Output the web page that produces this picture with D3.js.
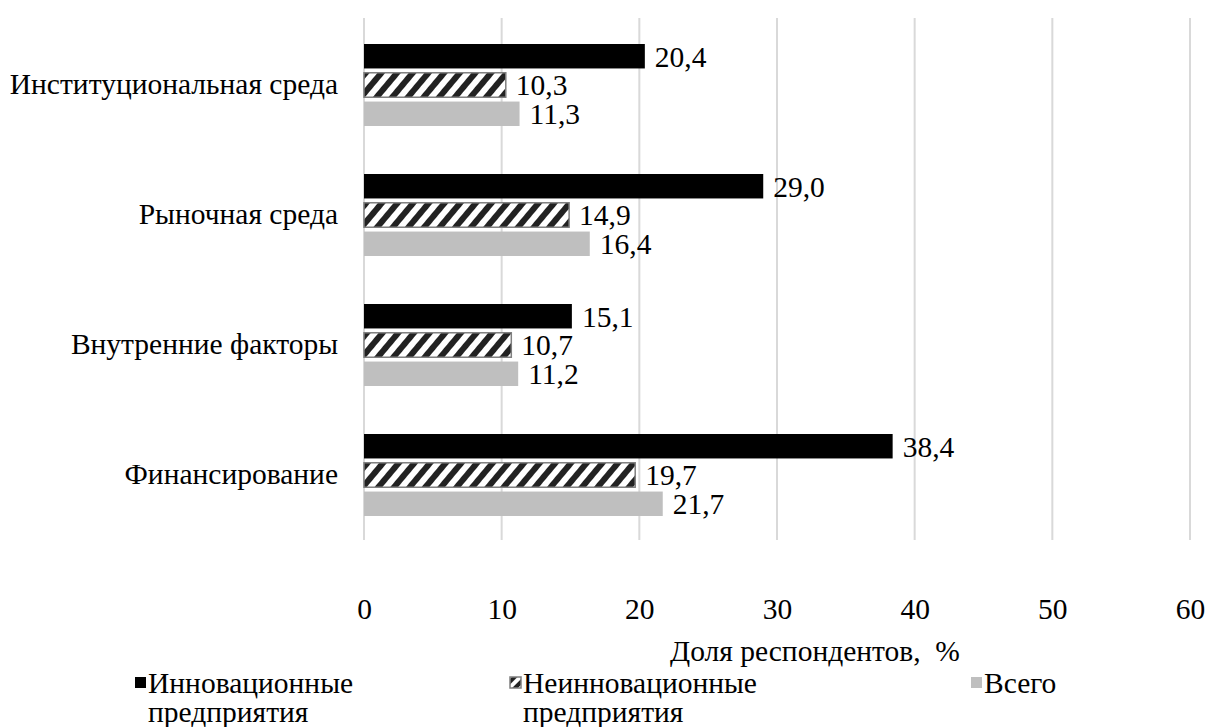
<!DOCTYPE html>
<html>
<head>
<meta charset="utf-8">
<script src="https://cdn.jsdelivr.net/npm/d3@7"></script>
</head>
<body style="margin:0">
<svg id="chart" width="1213" height="727"></svg>
<script>
// Barriers to development, share of respondents (%)
const categories = ["Институциональная среда", "Рыночная среда", "Внутренние факторы", "Финансирование"];
const seriesNames = ["Инновационные предприятия", "Неинновационные предприятия", "Всего"];
const innovative = [20.4, 29.0, 15.1, 38.4];
const nonInnovative = [10.3, 14.9, 10.7, 19.7];
const total = [11.3, 16.4, 11.2, 21.7];
const xTicks = [0, 10, 20, 30, 40, 50, 60];
const axisTitle = "Доля респондентов,\u00a0 %";

const series = [innovative, nonInnovative, total];
const svg = d3.select("#chart");
const fontSize = 29.5;

// apply the serif face to a text selection
const styleText = sel => sel
  .style("font-family", '"Liberation Serif"')
  .attr("font-size", fontSize)
  .attr("fill", "#000");

const x = d3.scaleLinear().domain([0, 60]).range([364, 1190]);
const y = d3.scaleBand().domain(categories).range([20, 540]);
const inner = d3.scaleBand().domain(d3.range(3)).range([-41, 41]).paddingInner(0.15);

// hatch pattern for the non-innovative series
const defs = svg.append("defs");
const pat = defs.append("pattern")
  .attr("id", "hatch").attr("patternUnits", "userSpaceOnUse")
  .attr("width", 12).attr("height", 12)
  .attr("patternTransform", "rotate(40)");
pat.append("rect").attr("width", 12).attr("height", 12).attr("fill", "#fff");
pat.append("rect").attr("width", 6).attr("height", 12).attr("fill", "#222");

const pat2 = defs.append("pattern")
  .attr("id", "hatchSmall").attr("patternUnits", "userSpaceOnUse")
  .attr("width", 8).attr("height", 8)
  .attr("patternTransform", "rotate(45)");
pat2.append("rect").attr("width", 8).attr("height", 8).attr("fill", "#fff");
pat2.append("rect").attr("width", 4).attr("height", 8).attr("fill", "#222");

const fills = ["#000000", "url(#hatch)", "#bfbfbf"];
const strokes = ["none", "#7f7f7f", "none"];

// vertical gridlines
svg.append("g").selectAll("line").data(xTicks).join("line")
  .attr("x1", d => x(d)).attr("x2", d => x(d))
  .attr("y1", y.range()[0] - 2).attr("y2", y.range()[1])
  .attr("stroke", "#d9d9d9").attr("stroke-width", 2);

// x axis tick labels
const xAxis = d3.axisBottom(x).tickValues(xTicks).tickSize(0).tickPadding(0);
const gx = svg.append("g").attr("transform", "translate(0,609)").call(xAxis);
gx.attr("font-family", null).attr("font-size", null);
gx.select(".domain").remove();
gx.selectAll("text").attr("dy", "0.35em").call(styleText);

// category labels
const yAxis = d3.axisLeft(y).tickSize(0).tickPadding(0);
const gy = svg.append("g").attr("transform", "translate(338,0)").call(yAxis);
gy.attr("font-family", null).attr("font-size", null);
gy.select(".domain").remove();
gy.selectAll("text").call(styleText);

// bars and value labels
series.forEach((vals, si) => {
  const g = svg.append("g");
  g.selectAll("rect").data(vals).join("rect")
    .attr("x", x(0))
    .attr("y", (d, i) => y(categories[i]) + y.bandwidth() / 2 + inner(si))
    .attr("width", d => x(d) - x(0))
    .attr("height", inner.bandwidth())
    .attr("fill", fills[si])
    .attr("stroke", strokes[si])
    .attr("stroke-width", si === 1 ? 1.5 : 0);
  g.selectAll("text").data(vals).join("text")
    .attr("x", d => x(d) + 10)
    .attr("y", (d, i) => y(categories[i]) + y.bandwidth() / 2 + inner(si) + inner.bandwidth() / 2)
    .attr("dy", "0.35em")
    .text(d => d.toFixed(1).replace(".", ","))
    .call(styleText);
});

// axis title
svg.append("text").attr("x", 815).attr("y", 651).attr("dy", "0.35em")
  .attr("text-anchor", "middle").text(axisTitle).call(styleText);

// legend
const legendX = [135, 510, 971];
const legendFills = ["#000000", "url(#hatchSmall)", "#bfbfbf"];
seriesNames.forEach((name, i) => {
  const g = svg.append("g").attr("transform", `translate(${legendX[i]},0)`);
  g.append("rect").attr("x", 0).attr("y", 677).attr("width", 11).attr("height", 11)
    .attr("fill", legendFills[i])
    .attr("stroke", i === 1 ? "#7f7f7f" : "none").attr("stroke-width", 1.5);
  const t = g.append("text").call(styleText);
  name.split(" ").forEach((w, k) => {
    t.append("tspan").attr("x", 13).attr("y", 683 + k * 29).attr("dy", "0.35em").text(w);
  });
});
</script>
</body>
</html>
